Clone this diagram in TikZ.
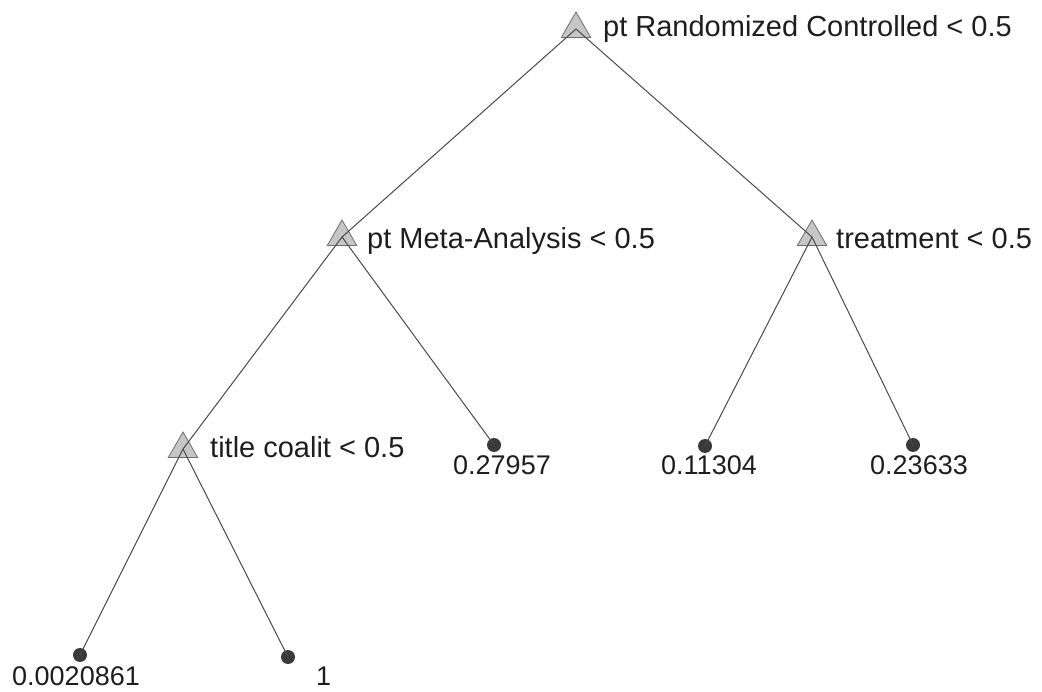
\documentclass[tikz,border=0pt]{standalone}
\usepackage{fontspec}
\setmainfont{Liberation Sans}
\usetikzlibrary{shapes.geometric}
\definecolor{trifill}{HTML}{C6C6C6}
\definecolor{triedge}{HTML}{6E6E6E}
\definecolor{dotgray}{HTML}{3A3A3A}
\definecolor{edgegray}{HTML}{4A4A4A}
\definecolor{textgray}{HTML}{1E1E1E}

\begin{document}
\begin{tikzpicture}[x=1pt,y=-1pt,
    split/.style={regular polygon, regular polygon sides=3, minimum size=34pt,
        inner sep=0pt, fill=trifill, draw=triedge, line width=0.8pt},
    leaf/.style={circle, fill=dotgray, minimum size=14pt, inner sep=0pt},
    lbl/.style={anchor=base west, inner sep=0pt, text=textgray,
        font=\fontsize{29}{34}\selectfont},
    val/.style={lbl, font=\fontsize{27}{32}\selectfont},
    edge/.style={draw=edgegray, line width=1pt}]
    \useasboundingbox (0,0) rectangle (1042,692);
    % splits
    \node[split] (root)   at (576,29)  {};
    \node[split] (meta)   at (342,237) {};
    \node[split] (treat)  at (812,237) {};
    \node[split] (coalit) at (183,449) {};
    % leaves
    \node[leaf] (lfa) at (80,655)  {};
    \node[leaf] (lfb) at (288,657) {};
    \node[leaf] (lfc) at (494,445) {};
    \node[leaf] (lfd) at (705,446) {};
    \node[leaf] (lfe) at (913,445) {};
    \foreach \a/\b in {root/meta,root/treat,meta/coalit,meta/lfc,
                       treat/lfd,treat/lfe,coalit/lfa,coalit/lfb}
        \draw[edge] (\a.center) -- (\b.center);
    % labels
    \node[lbl] (rootlbl)   at (603,37)  {pt Randomized Controlled < 0.5};
    \node[lbl] (metalbl)   at (367,249) {pt Meta-Analysis < 0.5};
    \node[lbl] (treatlbl)  at (836,249) {treatment < 0.5};
    \node[lbl] (coalitlbl) at (210,457) {title coalit < 0.5};
    \node[val] (lfalbl) at (12,685)  {0.0020861};
    \node[val] (lfblbl) at (316,685) {1};
    \node[val] (lfclbl) at (453,475) {0.27957};
    \node[val] (lfdlbl) at (661,475) {0.11304};
    \node[val] (lfelbl) at (870,475) {0.23633};
\end{tikzpicture}
\end{document}
